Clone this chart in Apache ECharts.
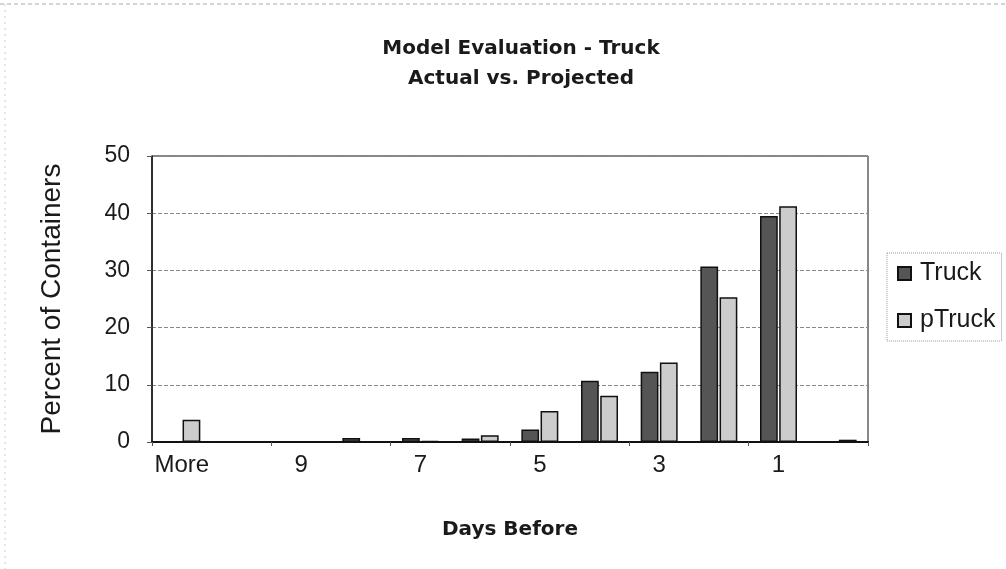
<!DOCTYPE html>
<html>
<head>
<meta charset="utf-8">
<script src="https://cdn.jsdelivr.net/npm/echarts@6/dist/echarts.min.js"></script>
<style>
html,body{margin:0;padding:0;background:#fff;}
#chart{width:1006px;height:569px;}
</style>
</head>
<body>
<div id="chart"></div>
<script>
const categories = ['More', '10', '9', '8', '7', '6', '5', '4', '3', '2', '1', '0'];
const truck  = [0, 0, 0, 0.7, 0.7, 0.6, 2.2, 10.7, 12.3, 30.7, 39.5, 0.1];
const pTruck = [3.9, 0.1, 0.1, 0.1, 0.2, 1.2, 5.4, 8.1, 13.9, 25.3, 41.2, 0.4];
const yTicks = [0, 10, 20, 30, 40, 50];

const chart = echarts.init(document.getElementById('chart'));
const font = 'Liberation Sans, Arial, sans-serif';
const wideFont = 'DejaVu Sans, Verdana, sans-serif';
chart.setOption({
  animation: false,
  backgroundColor: '#fff',
  title: {
    text: 'Model Evaluation - Truck\nActual vs. Projected',
    left: 516, top: 29, textAlign: 'center',
    textStyle: { fontFamily: wideFont, fontSize: 20, fontWeight: 'bold', color: '#1a1a1a', lineHeight: 30 }
  },
  legend: {
    orient: 'vertical',
    left: 887, top: 253,
    itemWidth: 13, itemHeight: 13, itemGap: 22,
    icon: 'rect',
    padding: [8, 6, 8, 10],
    borderColor: '#999', borderWidth: 1, borderType: 'dotted',
    textStyle: { fontFamily: font, fontSize: 25, color: '#1a1a1a', padding: [0, 0, 0, 4] },
    data: ['Truck', 'pTruck']
  },
  grid: {
    left: 152, right: 138, top: 156, bottom: 127,
    show: true, borderColor: '#111', borderWidth: 1
  },
  xAxis: {
    type: 'category',
    data: categories,
    name: 'Days Before',
    nameLocation: 'middle', nameGap: 78,
    nameTextStyle: { fontFamily: wideFont, fontSize: 20, fontWeight: 'bold', color: '#1a1a1a' },
    axisLine: { lineStyle: { color: '#111', width: 2 } },
    axisTick: { show: true, length: 4, lineStyle: { color: '#555' } },
    axisLabel: { interval: 1, fontFamily: font, fontSize: 24, color: '#1a1a1a', margin: 11 }
  },
  yAxis: {
    type: 'value',
    min: yTicks[0], max: yTicks[yTicks.length - 1], interval: 10,
    name: 'Percent of Containers',
    nameLocation: 'middle', nameGap: 86,
    nameTextStyle: { fontFamily: font, fontSize: 28, color: '#1a1a1a' },
    axisLine: { show: true, lineStyle: { color: '#111', width: 1.5 } },
    axisTick: { show: true, length: 5, lineStyle: { color: '#555' } },
    axisLabel: { fontFamily: font, fontSize: 23, color: '#1a1a1a', margin: 22 },
    splitLine: { show: true, lineStyle: { color: '#888', type: 'dashed', width: 1 } }
  },
  series: [
    {
      name: 'Truck', type: 'bar', data: truck,
      barGap: '8%', barCategoryGap: '38%',
      itemStyle: { color: '#555555', borderColor: '#111', borderWidth: 1.5 }
    },
    {
      name: 'pTruck', type: 'bar', data: pTruck,
      itemStyle: { color: '#cccccc', borderColor: '#111', borderWidth: 1.5 }
    }
  ],
  graphic: [
    { type: 'line', shape: { x1: 0, y1: 4, x2: 1006, y2: 4 }, style: { stroke: '#aaa', lineWidth: 1, lineDash: [4, 3] } },
    { type: 'line', shape: { x1: 5, y1: 4, x2: 5, y2: 569 }, style: { stroke: '#ccc', lineWidth: 1, lineDash: [2, 4] } }
  ]
});
</script>
</body>
</html>
